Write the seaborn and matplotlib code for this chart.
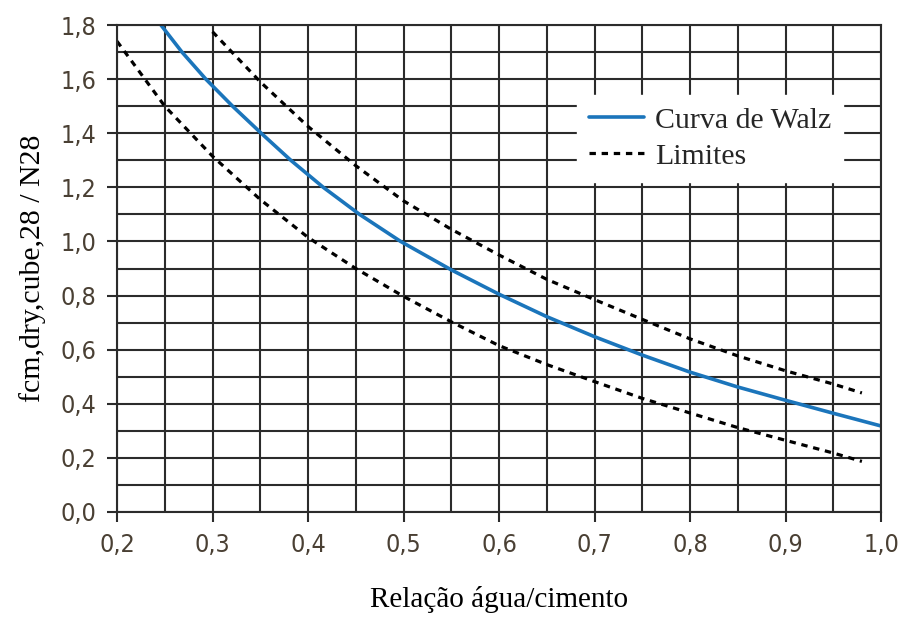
import numpy as np
import pandas as pd
import matplotlib
matplotlib.use("Agg")
import matplotlib.pyplot as plt
from matplotlib.ticker import MultipleLocator, FuncFormatter
import seaborn as sns

# values
walz_x = [0.246, 0.268, 0.293, 0.321, 0.351, 0.382, 0.416, 0.454, 0.497, 0.55, 0.60, 0.65,
          0.70, 0.75, 0.80, 0.85, 0.90, 0.95, 1.00]
walz_y = [1.80, 1.70, 1.60, 1.50, 1.40, 1.30, 1.20, 1.10, 1.00, 0.895, 0.805, 0.722,
          0.648, 0.58, 0.517, 0.462, 0.413, 0.365, 0.318]

upper_x = [0.30, 0.35, 0.40, 0.45, 0.50, 0.55, 0.60, 0.65, 0.70, 0.75, 0.80, 0.85, 0.90, 0.95, 0.98]
upper_y = [1.775, 1.59, 1.425, 1.28, 1.15, 1.045, 0.95, 0.86, 0.785, 0.712, 0.640, 0.577, 0.522, 0.473, 0.44]

lower_x = [0.20, 0.25, 0.30, 0.35, 0.40, 0.45, 0.50, 0.55, 0.60, 0.65, 0.70, 0.75, 0.80, 0.85, 0.90, 0.95, 0.98]
lower_y = [1.74, 1.50, 1.315, 1.155, 1.015, 0.90, 0.797, 0.703, 0.615, 0.545, 0.482, 0.42, 0.366, 0.312, 0.265, 0.218, 0.187]

x_label = "Relação água/cimento"
y_label = "fcm,dry,cube,28 / N28"
legend_labels = ["Curva de Walz", "Limites"]

sns.set_style("white")
serif = ["Liberation Serif", "DejaVu Serif"]
tick_color = "#4a4034"
grid_color = "#2b2b2b"
blue = "#1b75bb"

fig = plt.figure(figsize=(8.98, 6.19), dpi=100)
ax = fig.add_axes([117 / 898, 1 - 512 / 619, (881 - 117) / 898, (512 - 25) / 619])

dash = (0, (2.0, 1.8))
sns.lineplot(x=walz_x, y=walz_y, ax=ax, color=blue, lw=2.6, label=legend_labels[0])
sns.lineplot(x=upper_x, y=upper_y, ax=ax, color="black", lw=2.3,
             linestyle=dash, label=legend_labels[1])
sns.lineplot(x=lower_x, y=lower_y, ax=ax, color="black", lw=2.3,
             linestyle=dash, label="_nolegend_")

ax.set_xlim(0.2, 1.0)
ax.set_ylim(0.0, 1.8)
ax.xaxis.set_major_locator(MultipleLocator(0.1))
ax.xaxis.set_minor_locator(MultipleLocator(0.05))
ax.yaxis.set_major_locator(MultipleLocator(0.2))
ax.yaxis.set_minor_locator(MultipleLocator(0.1))
comma = FuncFormatter(lambda v, p: f"{v:.1f}".replace(".", ","))
ax.xaxis.set_major_formatter(comma)
ax.yaxis.set_major_formatter(comma)

ax.grid(True, which="both", color=grid_color, lw=1.5)
ax.set_axisbelow(True)
for s in ax.spines.values():
    s.set_color(grid_color)
    s.set_linewidth(1.5)
ax.tick_params(which="major", direction="out", length=7, width=1.5, color=grid_color,
               pad=8, labelcolor=tick_color, bottom=True, left=True)
ax.tick_params(which="minor", length=0)
for lab in ax.get_xticklabels() + ax.get_yticklabels():
    lab.set_family(["DejaVu Sans"])
    lab.set_stretch("condensed")
    lab.set_fontsize(18)

ax.set_xlabel(x_label, family=serif, fontsize=21, color="black", labelpad=21)
ax.set_ylabel(y_label, family=serif, fontsize=21.5, color="black", labelpad=10)

leg = ax.legend(loc="upper right", bbox_to_anchor=(843 / 898, 1 - 95 / 619),
                bbox_transform=fig.transFigure, frameon=True, fancybox=False,
                framealpha=1, edgecolor="white", prop={"family": serif, "size": 21.5},
                handlelength=1.85, handletextpad=0.35, borderpad=0.4, labelspacing=0.3,
                borderaxespad=0)

fig.savefig("out.png", dpi=100)
